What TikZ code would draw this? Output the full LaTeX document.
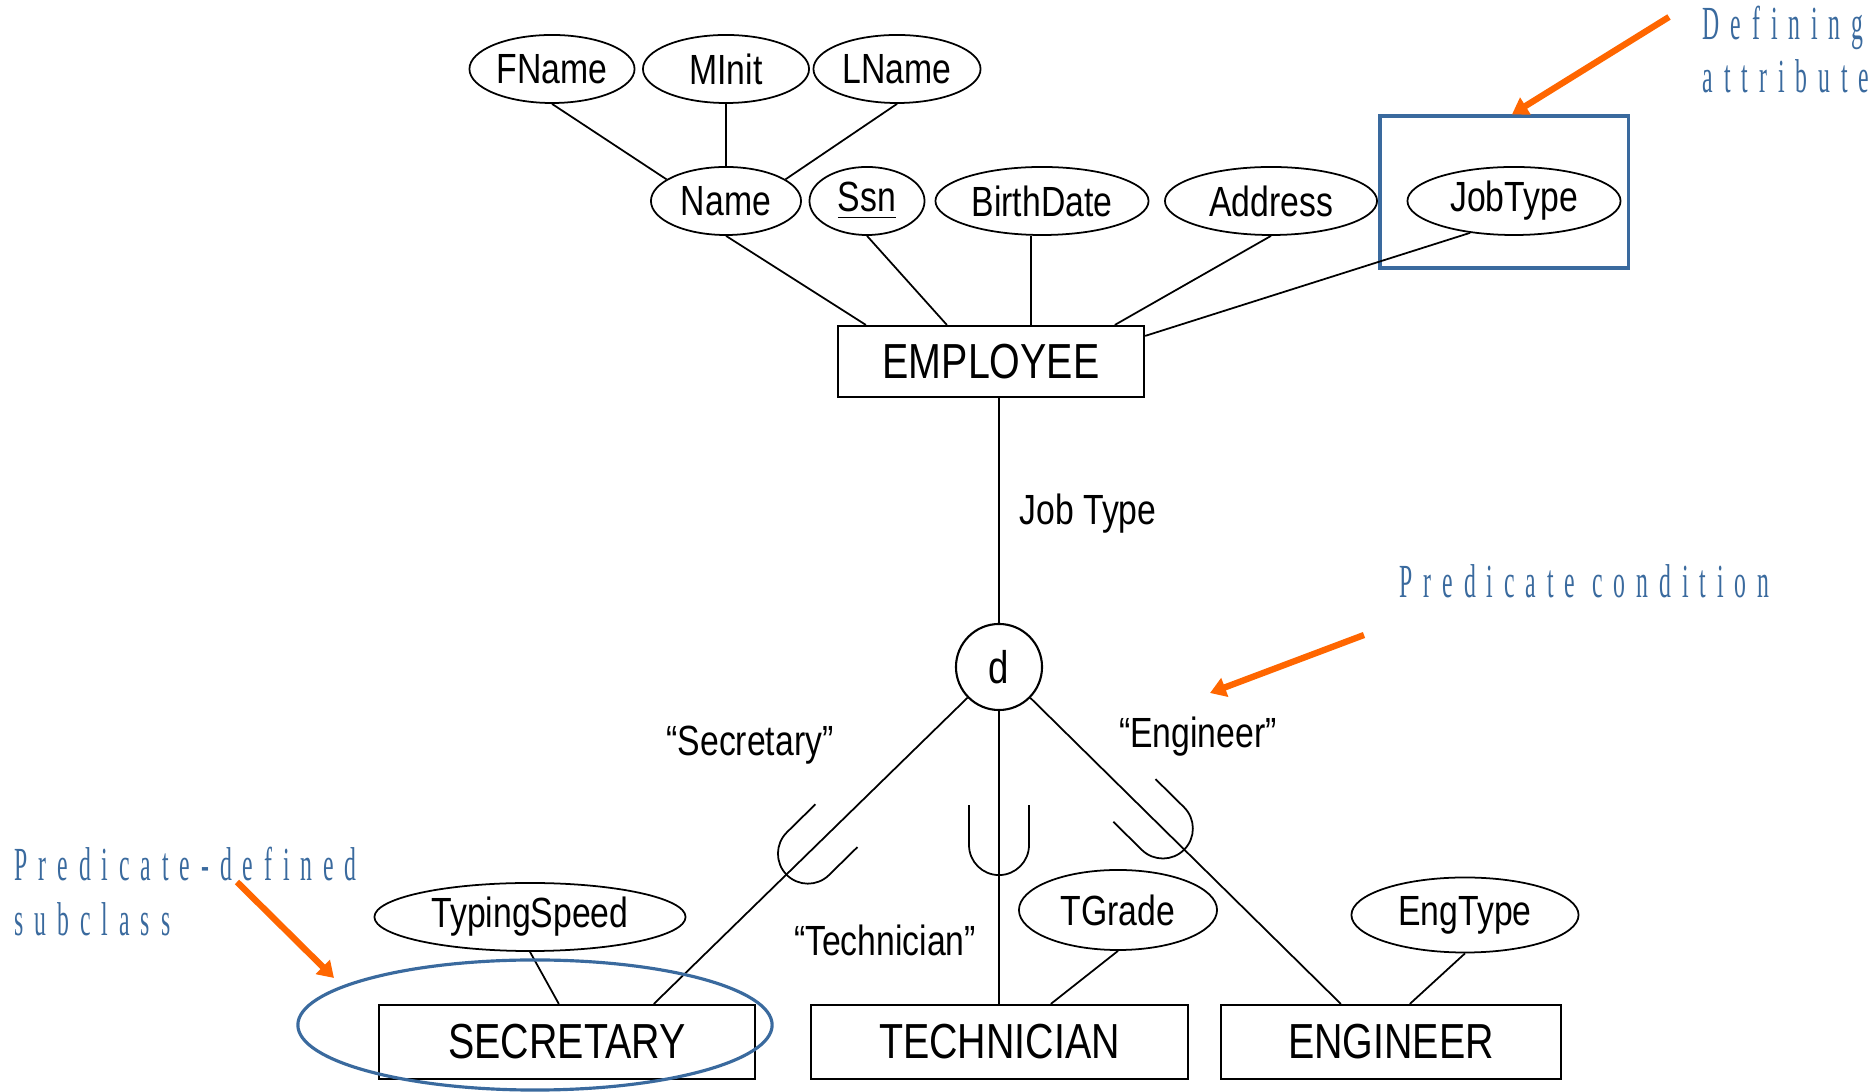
\documentclass[tikz,border=0pt]{standalone}
\usepackage{fontspec}
\setmainfont{Liberation Sans}[FakeStretch=0.8]
\newfontfamily\notefont{Liberation Serif}[FakeStretch=0.5,LetterSpace=23]
\usetikzlibrary{arrows.meta,calc,shapes.geometric}

\definecolor{noteblue}{HTML}{3A6A9E}
\definecolor{callout}{HTML}{FF6600}

\newcommand\attrsize{\fontsize{12pt}{14pt}\selectfont}
\newcommand\entsize{\fontsize{14pt}{16pt}\selectfont}
\newcommand\notesize{\fontsize{13.5pt}{15pt}\selectfont}

\begin{document}
\begin{tikzpicture}[x=0.01cm,y=0.01cm,
  attr/.style={ellipse, draw, line width=0.5pt, inner sep=0pt, font=\attrsize},
  entity/.style={rectangle, draw, line width=0.6pt, inner sep=0pt, font=\entsize},
  label/.style={inner sep=0pt, font=\attrsize},
  link/.style={line width=0.5pt},
  note/.style={inner sep=0pt, anchor=base west, text=noteblue, font=\notesize\notefont},
  highlight/.style={draw=noteblue, line width=0.9pt},
  pointer/.style={draw=callout, line width=1.8pt, -{Triangle[length=4.5pt,width=5.5pt]}},
  subsetmark/.pic={\draw[line width=0.5pt] (-30,0) -- (-30,-40)
      arc[start angle=180,end angle=360,radius=30] -- (30,0);}
]
\useasboundingbox (0,0) rectangle (1875,-1092);

% composite attribute Name
\node[attr, minimum width=1.65cm, minimum height=0.68cm] (fname) at (552,-69) {FName};
\node[attr, minimum width=1.66cm, minimum height=0.68cm] (minit) at (726,-69) {MInit};
\node[attr, minimum width=1.67cm, minimum height=0.68cm] (lname) at (897,-69) {LName};

% attributes of EMPLOYEE
\node[attr, minimum width=1.50cm, minimum height=0.68cm] (name)  at (726,-201)  {Name};
\node[attr, minimum width=1.15cm, minimum height=0.68cm] (ssn)   at (867,-201)  {\underline{Ssn}};
\node[attr, minimum width=2.13cm, minimum height=0.68cm] (bdate) at (1042,-201) {BirthDate};
\node[attr, minimum width=2.12cm, minimum height=0.68cm] (addr)  at (1271,-201) {Address};
\node[attr, minimum width=2.13cm, minimum height=0.68cm] (jtype) at (1514,-201) {JobType};
\node[highlight, rectangle, minimum width=2.48cm, minimum height=1.52cm, inner sep=0pt] (defbox) at (1504,-192) {};

% entities
\node[entity, minimum width=3.06cm, minimum height=0.71cm] (emp)  at (991,-361.5) {EMPLOYEE};
\node[circle, draw, line width=0.6pt, minimum size=0.86cm, inner sep=0pt, font=\fontsize{13pt}{15pt}\selectfont] (d) at (999,-667) {d};
\node[entity, minimum width=3.76cm, minimum height=0.74cm] (sec)  at (567,-1042)   {SECRETARY};
\node[entity, minimum width=3.77cm, minimum height=0.74cm] (tech) at (999.5,-1042) {TECHNICIAN};
\node[entity, minimum width=3.40cm, minimum height=0.74cm] (eng)  at (1391,-1042)  {ENGINEER};

% attributes of the subclasses
\node[attr, minimum width=3.11cm, minimum height=0.68cm] (tspeed)  at (530,-917)  {TypingSpeed};
\node[attr, minimum width=1.98cm, minimum height=0.80cm] (tgrade)  at (1118,-910) {TGrade};
\node[attr, minimum width=2.27cm, minimum height=0.75cm] (engtype) at (1465,-915) {EngType};

% labels
\node[label] (jtlabel) at (1088,-514) {Job Type};
\node[label] (seclabel) at (750,-745) {“Secretary”};
\node[label] (techlabel) at (885,-940) {“Technician”};
\node[label] (englabel) at (1198,-737) {“Engineer”};

% attachment points on the entity boxes
\coordinate (e1) at ($(emp.north west)+(29,0)$);
\coordinate (e2) at ($(emp.north west)+(110,0)$);
\coordinate (e3) at ($(emp.north west)+(194,0)$);
\coordinate (e4) at ($(emp.north west)+(278,0)$);
\coordinate (e5) at ($(emp.north east)+(0,-11)$);
\coordinate (sectop)  at ($(sec.north west)+(276,0)$);
\coordinate (techtop) at (d |- tech.north);
\coordinate (engtop)  at ($(eng.north west)+(121,0)$);

% connectors
\draw[link] (fname.south) -- (name.160);
\draw[link] (minit.south) -- (name.north);
\draw[link] (lname.south) -- (name.20);
\draw[link] (name.south) -- (e1);
\draw[link] (ssn.south) -- (e2);
\draw[link] (bdate.south -| e3) -- (e3);
\draw[link] (addr.south) -- (e4);
\draw[link] (jtype.216) -- (e5);
\draw[link] (emp.south -| d.north) -- (d.north);
\draw[link] (d) -- (sectop);
\draw[link] (d) -- (techtop);
\draw[link] (d) -- (engtop);
\draw[link] (tspeed.south) -- ($(sec.north west)+(181,0)$);
\draw[link] (tgrade.south) -- ($(tech.north west)+(241,0)$);
\draw[link] (engtype.south) -- ($(eng.north west)+(190,0)$);

% subset marks on the specialization lines
\path ($(d.center)!2.27cm!(sectop)$) pic[rotate=-45.5] {subsetmark};
\path ($(d.center)!1.38cm!(techtop)$) pic {subsetmark};
\path ($(d.center)!1.90cm!(engtop)$) pic[rotate=45.4] {subsetmark};

% annotations
\node[highlight, ellipse, minimum width=4.74cm, minimum height=1.30cm, inner sep=0pt] (secring) at (535,-1025) {};

\node[note] (defl1) at (1702,-39.5) {Defining};
\node[note] (defl2) at (1702,-93) {attribute};
\node[note] (predcond) at (1399,-598) {Predicate condition};
\node[note] (preddef1) at (14,-881) {Predicate-defined};
\node[note] (preddef2) at (14,-936) {subclass};

\coordinate (p1) at (1669,-17);
\coordinate (p2) at (1364,-635);
\coordinate (p2tip) at (1210,-693);
\coordinate (p3) at (237,-882);
\coordinate (p3tip) at (334,-978);
\draw[pointer] (p1) -- ($(defbox.north)+(8,0)$);
\draw[pointer] (p2) -- (p2tip);
\draw[pointer] (p3) -- (p3tip);
\end{tikzpicture}
\end{document}
